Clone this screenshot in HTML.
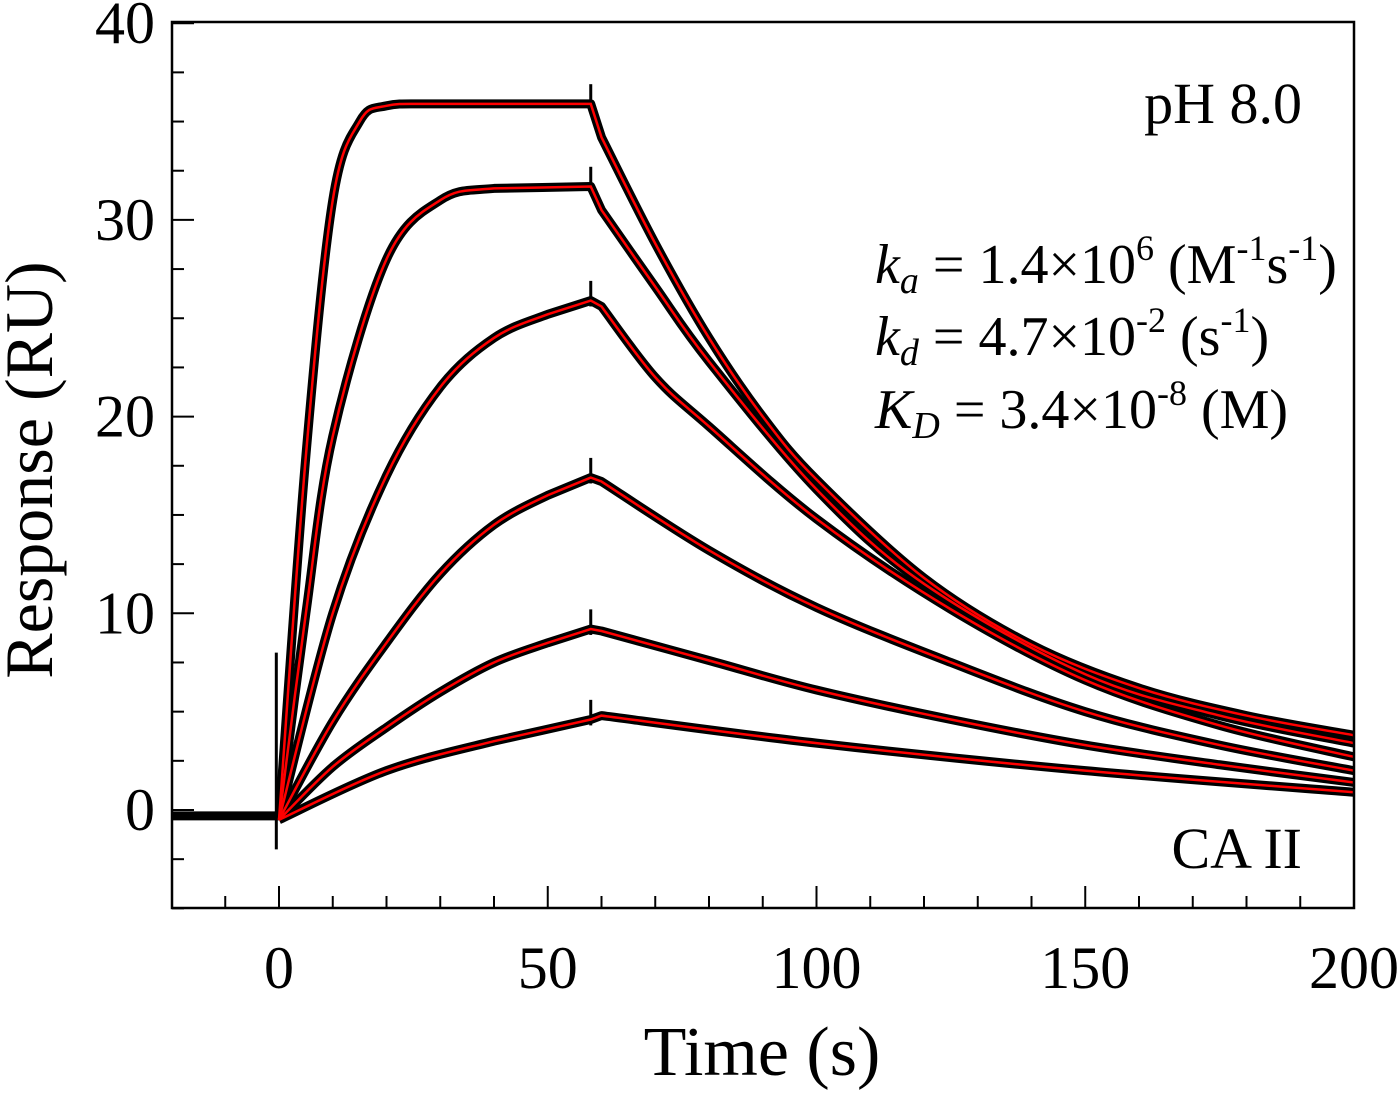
<!DOCTYPE html>
<html><head><meta charset="utf-8"><style>
body{margin:0;background:#fff;}
svg text{font-family:"Liberation Serif",serif;fill:#000;}
</style></head><body>
<svg id="c" width="1400" height="1093"></svg>
<script>
const xTicks=[0,50,100,150,200];
const yTicks=[0,10,20,30,40];
const curveTimes=[
[0,5,10,15,20,30,58,60,70,80,90,100,120,140,160,180,200],
[0,5,10,20,30,40,58,60,70,80,100,120,150,175,200],
[0,10,20,30,40,50,58,60,70,80,100,125,150,175,200],
[0,10,20,30,40,50,58,60,80,100,125,150,175,200],
[0,10,20,30,40,50,58,60,80,100,125,150,175,200],
[0,20,40,58,60,100,150,200]];
const curveValues=[
[-0.5,18,31,35,35.8,35.9,35.9,34.2,28.8,24,20,16.8,11.8,8.4,6.2,4.8,3.8],
[-0.5,10,19,28,31,31.6,31.7,30.5,26.6,22.8,16.3,11.5,6.9,4.8,3.4],
[-0.5,10,17,21.5,24,25.2,25.9,25.6,22,19.5,14.8,10.2,6.6,4.3,2.7],
[-0.5,4.5,8.5,12,14.5,16,16.9,16.7,13.2,10.3,7.5,5,3.3,2],
[-0.5,2.2,4.2,6,7.5,8.5,9.2,9.1,7.6,6.1,4.6,3.3,2.3,1.4],
[-0.5,2,3.5,4.6,4.8,3.4,2,0.9]];
const baselineTimes=[-20,0];
const baselineValues=[-0.3,-0.3];
const NS="http://www.w3.org/2000/svg";
const svg=document.getElementById('c');
const PX=5.375,Y0=810,PY=19.67;
const xs=t=>279+t*PX, ys=v=>Y0-v*PY;
function mk(tag,attrs,parent){const e=document.createElementNS(NS,tag);for(const k in attrs)e.setAttribute(k,attrs[k]);(parent||svg).appendChild(e);return e;}
function pathFor(ts,vs){const p=ts.map((t,i)=>[xs(t),ys(vs[i])]);let d='M'+p[0][0]+','+p[0][1];
for(let i=0;i<p.length-1;i++){const p0=p[Math.max(0,i-1)],p1=p[i],p2=p[i+1],p3=p[Math.min(p.length-1,i+2)];
if(ts[i]===58){d+=' L'+p2[0]+','+p2[1];continue;}
const q0=ts[i+1]===58?p1:p0, q3=ts[i+1]===58?p2:p3, r0=ts[i]===60?p1:q0;
const c1=[p1[0]+(p2[0]-r0[0])/6,p1[1]+(p2[1]-r0[1])/6],c2=[p2[0]-(q3[0]-p1[0])/6,p2[1]-(q3[1]-p1[1])/6];
d+=' C'+c1+' '+c2+' '+p2;}return d;}
const bl=mk('path',{d:'M'+xs(baselineTimes[0])+','+ys(baselineValues[0])+' L'+xs(baselineTimes[1])+','+ys(baselineValues[1]),stroke:'#000','stroke-width':9,fill:'none'});

const sp=mk('path',{d:`M${xs(-0.5)},${ys(8)} L${xs(-0.5)},${ys(-2)}`,stroke:'#000','stroke-width':3});

curveTimes.forEach((ts,i)=>{const e=mk('path',{d:pathFor(ts,curveValues[i]),stroke:'#000','stroke-width':9,fill:'none','stroke-linejoin':'round'});

const v=curveValues[i][ts.indexOf(58)];
const k=mk('path',{d:`M${xs(58)},${ys(v+1)} L${xs(58)},${ys(v-0.3)}`,stroke:'#000','stroke-width':3});
});
curveTimes.forEach((ts,i)=>{const e=mk('path',{d:pathFor(ts,curveValues[i]),stroke:'#f00','stroke-width':2.5,fill:'none'});
});
const fr=mk('rect',{x:172,y:22,width:1182,height:886,fill:'none',stroke:'#000','stroke-width':2.5});

for(let t=-10;t<=200;t+=10){const maj=t%50===0;const e=mk('line',{x1:xs(t),x2:xs(t),y1:908,y2:908-(maj?22:12),stroke:'#000','stroke-width':2});
}
xTicks.forEach(t=>{const e=mk('text',{x:xs(t),y:988,'font-size':60,'text-anchor':'middle'});e.textContent=t;
});
for(let v=-5;v<=40;v+=2.5){const maj=v%10===0;const e=mk('line',{x1:172,x2:172+(maj?22:12),y1:ys(v),y2:ys(v),stroke:'#000','stroke-width':2});
}
yTicks.forEach(v=>{const e=mk('text',{x:155,y:ys(v)+20,'font-size':60,'text-anchor':'end'});e.textContent=v;
});
</script>
<svg width="1400" height="1093" style="position:absolute;left:0;top:0">
<text x="762" y="1075" font-size="70" text-anchor="middle">Time (s)</text>
<text transform="translate(52,470) rotate(-90)" font-size="68" text-anchor="middle">Response (RU)</text>
<text x="1302" y="123" font-size="58" text-anchor="end">pH 8.0</text>
<text x="1302" y="868" font-size="58" text-anchor="end">CA II</text>
<text x="875" y="283" font-size="56"><tspan font-style="italic">k</tspan><tspan font-style="italic" font-size="38" dy="10">a</tspan><tspan dy="-10"> = 1.4×10</tspan><tspan font-size="36" dy="-23">6</tspan><tspan dy="23"> (M</tspan><tspan font-size="36" dy="-23">-1</tspan><tspan dy="23">s</tspan><tspan font-size="36" dy="-23">-1</tspan><tspan dy="23">)</tspan></text>
<text x="875" y="355" font-size="56"><tspan font-style="italic">k</tspan><tspan font-style="italic" font-size="38" dy="10">d</tspan><tspan dy="-10"> = 4.7×10</tspan><tspan font-size="36" dy="-23">-2</tspan><tspan dy="23"> (s</tspan><tspan font-size="36" dy="-23">-1</tspan><tspan dy="23">)</tspan></text>
<text x="875" y="428" font-size="56"><tspan font-style="italic">K</tspan><tspan font-style="italic" font-size="38" dy="10">D</tspan><tspan dy="-10"> = 3.4×10</tspan><tspan font-size="36" dy="-23">-8</tspan><tspan dy="23"> (M)</tspan></text>
</svg>
</body></html>
